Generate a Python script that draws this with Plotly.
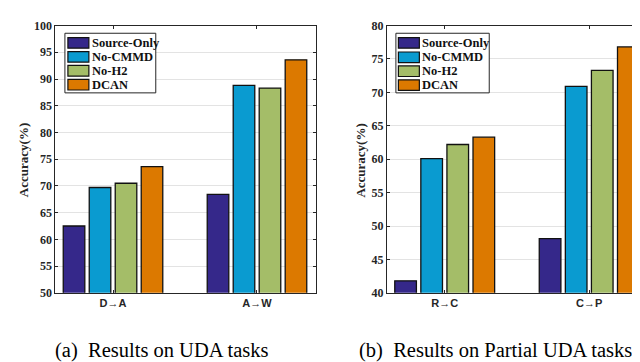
import plotly.graph_objects as go

methods = ["Source-Only", "No-CMMD", "No-H2", "DCAN"]
colors = ["#35288a", "#0a9bd0", "#a4bd68", "#dc7900"]

uda_tasks = ["D\u2192A", "A\u2192W"]
uda_values = {
    "Source-Only": [62.5, 68.4],
    "No-CMMD": [69.7, 88.8],
    "No-H2": [70.5, 88.3],
    "DCAN": [73.6, 93.6],
}

puda_tasks = ["R\u2192C", "C\u2192P"]
puda_values = {
    "Source-Only": [41.8, 48.1],
    "No-CMMD": [60.1, 70.9],
    "No-H2": [62.2, 73.3],
    "DCAN": [63.3, 76.8],
}

uda_ticks = [50, 55, 60, 65, 70, 75, 80, 85, 90, 95, 100]
puda_ticks = [40, 45, 50, 55, 60, 65, 70, 75, 80]

W, H = 640, 362
def fx(px):
    return px / W
def fy(py):
    return 1 - py / H

fig = go.Figure()
for m, c in zip(methods, colors):
    fig.add_trace(go.Bar(x=[0, 1], y=uda_values[m], name=m, showlegend=False,
                         marker=dict(color=c, line=dict(color="#111111", width=1.3)),
                         xaxis="x", yaxis="y", offsetgroup=m))
for m, c in zip(methods, colors):
    fig.add_trace(go.Bar(x=[0, 1], y=puda_values[m], name=m, showlegend=False,
                         marker=dict(color=c, line=dict(color="#111111", width=1.3)),
                         xaxis="x2", yaxis="y2", offsetgroup=m))

tickfont = dict(family="Liberation Serif", size=12, color="#262626")
catfont = dict(family="Liberation Sans", size=11, color="#262626")
titlefont = dict(family="Liberation Serif", size=13, color="#262626")

axis_common = dict(showline=True, linecolor="#262626", linewidth=1, mirror="ticks", ticks="inside",
                   ticklen=3, tickcolor="#262626", zeroline=False)

shapes = []
annotations = []

# custom legends (box, swatches, labels)
def add_legend(box_x0, box_x1, sw_x0, sw_x1, txt_x, rows_y):
    shapes.append(dict(type="rect", xref="paper", yref="paper", x0=fx(box_x0), x1=fx(box_x1),
                       y0=fy(81), y1=fy(19), fillcolor="white", line=dict(color="#262626", width=1), layer="above"))
    for m, c, ry in zip(methods, colors, rows_y):
        shapes.append(dict(type="rect", xref="paper", yref="paper", x0=fx(sw_x0), x1=fx(sw_x1),
                           y0=fy(ry + 5.5), y1=fy(ry - 5.5), fillcolor=c, line=dict(color="#111111", width=1.2),
                           layer="above"))
        annotations.append(dict(text="<b>%s</b>" % m, x=fx(txt_x), y=fy(ry), xref="paper", yref="paper",
                                showarrow=False, xanchor="left", yanchor="middle",
                                font=dict(family="Liberation Serif", size=12.5, color="#111111")))

add_legend(57, 148, 60, 81, 82, [29, 43.5, 58, 72.5])
add_legend(388.5, 482, 391, 412, 413, [29, 44, 58.5, 73])

for xpx in (15, 353):
    annotations.append(dict(text="<b>Accuracy(%)</b>", x=fx(xpx), y=fy(151), xref="paper", yref="paper",
                            showarrow=False, textangle=-90, font=titlefont, xanchor="center", yanchor="middle"))

annotations.append(dict(text="(a)  Results on UDA tasks", x=fx(154.5), y=fy(349), xref="paper", yref="paper",
                        showarrow=False, font=dict(family="Liberation Serif", size=20.5, color="black"),
                        xanchor="center", yanchor="middle"))
annotations.append(dict(text="(b)  Results on Partial UDA tasks", x=fx(488), y=fy(349), xref="paper", yref="paper",
                        showarrow=False, font=dict(family="Liberation Serif", size=20.5, color="black"),
                        xanchor="center", yanchor="middle"))

fig.update_layout(
    width=W, height=H, margin=dict(l=0, r=0, t=0, b=0),
    paper_bgcolor="white", plot_bgcolor="white",
    barmode="group", bargap=0.278, bargroupgap=0.17,
    xaxis=dict(domain=[fx(47.5), fx(308.5)], range=[-0.4, 1.41], tickmode="array", tickvals=[0, 1],
               ticktext=["<b>%s</b>" % t for t in uda_tasks], tickfont=catfont, showgrid=False, anchor="y", **axis_common),
    yaxis=dict(domain=[fy(289), fy(11)], range=[50, 100], tickvals=uda_ticks,
               ticktext=["<b>%d</b>" % v for v in uda_ticks], tickfont=tickfont, showgrid=True, gridcolor="#e3e3e3",
               anchor="x", **axis_common),
    xaxis2=dict(domain=[fx(379.5), 1.0], range=[-0.4, 1.4], tickmode="array", tickvals=[0, 1],
                ticktext=["<b>%s</b>" % t for t in puda_tasks], tickfont=catfont, showgrid=False, anchor="y2", **axis_common),
    yaxis2=dict(domain=[fy(289), fy(11)], range=[40, 80], tickvals=puda_ticks,
                ticktext=["<b>%d</b>" % v for v in puda_ticks], tickfont=tickfont, showgrid=True, gridcolor="#e3e3e3",
                anchor="x2", **axis_common),
    shapes=shapes,
    annotations=annotations,
)

fig.write_html("out.html")
